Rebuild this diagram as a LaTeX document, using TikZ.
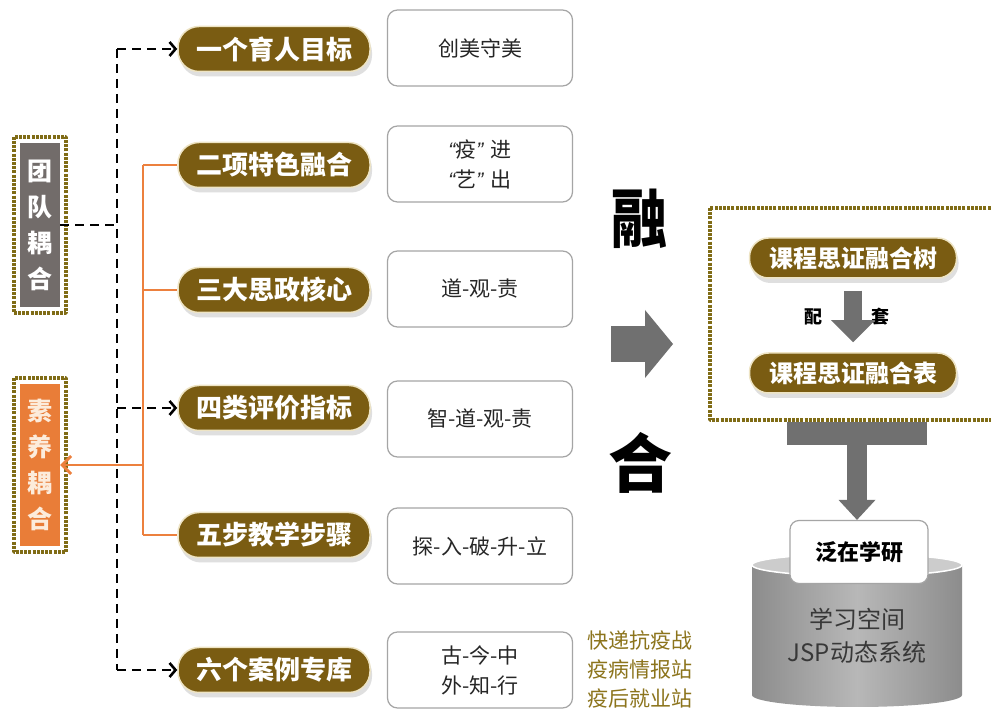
\documentclass[tikz,border=0pt]{standalone}
\usepackage{fontspec}
\setmainfont{Noto Sans CJK SC}
\newfontfamily\heavyfont{Noto Sans CJK SC Black}
\newfontfamily\quotefont{Liberation Sans}
\usetikzlibrary{arrows.meta,shadows}

\definecolor{olivebrown}{RGB}{122,92,18}
\definecolor{pillrim}{RGB}{238,228,196}
\definecolor{framecol}{RGB}{128,108,22}
\definecolor{linkorange}{RGB}{236,128,62}
\definecolor{teamgray}{RGB}{114,108,106}
\definecolor{qualityorange}{RGB}{233,125,56}
\definecolor{qualitytext}{RGB}{252,236,220}
\definecolor{blockgray}{RGB}{112,112,112}
\definecolor{sitecol}{RGB}{140,116,28}
\definecolor{notedraw}{RGB}{165,165,165}

\newcommand{\openq}{{\quotefont\itshape\char"201C}}
\newcommand{\closeq}{{\quotefont\itshape\char"201D}\hspace{0.35em}}

\tikzset{
  pill/.style={draw=pillrim, line width=1.5bp, fill=olivebrown, rounded corners=21bp,
    minimum width=192bp, minimum height=45bp, inner sep=0bp, text=white,
    font=\fontsize{26bp}{28bp}\selectfont\bfseries,
    drop shadow={shadow xshift=2bp, shadow yshift=-5bp, opacity=0.25}},
  smallpill/.style={pill, minimum width=207bp, minimum height=40bp, rounded corners=19bp,
    font=\fontsize{24bp}{27bp}\selectfont\bfseries},
  note/.style={draw=notedraw, line width=1.2bp, fill=white, rounded corners=10bp,
    minimum width=185bp, minimum height=76bp, align=center, text=black!85,
    font=\fontsize{21bp}{30bp}\selectfont},
  upright/.style={minimum width=40bp, inner sep=0bp, align=center,
    font=\fontsize{25bp}{36bp}\selectfont\bfseries},
  frame/.style={draw=framecol, line width=4bp, dash pattern=on 3bp off 1.2bp},
  dashlink/.style={draw=black, line width=2.6bp, dash pattern=on 9bp off 6bp,
    >={Straight Barb[length=6bp,width=14bp]}},
  orangelink/.style={draw=linkorange, line width=2.8bp,
    >={Straight Barb[length=9bp,width=18bp]}},
  blocklink/.style={draw=blockgray},
  pairlabel/.style={font=\fontsize{18bp}{20bp}\selectfont\bfseries},
  bigchar/.style={font=\heavyfont\fontsize{64bp}{64bp}\selectfont},
}

\begin{document}
\begin{tikzpicture}[>=latex,line join=bevel,]
%%
\fill[white] (0bp,0bp) rectangle (991bp,715bp);
\useasboundingbox (0bp,0bp) rectangle (991bp,715bp);
%% six steps
  \node (goal) at (274bp,666bp) [pill] {一个育人目标};
  \node (blend) at (274bp,550bp) [pill] {二项特色融合};
  \node (core) at (274bp,425bp) [pill] {三大思政核心};
  \node (eval) at (274bp,307bp) [pill] {四类评价指标};
  \node (steps) at (274bp,180bp) [pill] {五步教学步骤};
  \node (cases) at (274bp,45bp) [pill] {六个案例专库};
  \node (goalnote) at (480bp,667bp) [note] {创美守美};
  \node (blendnote) at (480bp,551bp) [note] {\openq 疫\closeq 进\\\openq 艺\closeq 出};
  \node (corenote) at (480bp,426bp) [note] {道-观-责};
  \node (evalnote) at (480bp,296bp) [note] {智-道-观-责};
  \node (stepsnote) at (480bp,169bp) [note] {探-入-破-升-立};
  \node (casesnote) at (480bp,45bp) [note] {古-今-中\\外-知-行};
  \node (casesites) at (640bp,46bp) [text=sitecol, align=center,
    font=\fontsize{21bp}{29bp}\selectfont] {快递抗疫战\\疫病情报站\\疫后就业站};
%% two couplings
  \node (team) at (40bp,490bp) [upright, fill=teamgray, minimum height=164bp, text=white] {团\\队\\耦\\合};
  \node (quality) at (40bp,250bp) [upright, fill=qualityorange, minimum height=162bp, text=qualitytext] {素\\养\\耦\\合};
  \draw [frame] ([xshift=-6bp,yshift=6bp]team.north west) rectangle ([xshift=6bp,yshift=-6bp]team.south east);
  \draw [frame] ([xshift=-6bp,yshift=6bp]quality.north west) rectangle ([xshift=6bp,yshift=-6bp]quality.south east);
%
  \coordinate (stem) at (143bp,0bp);
  \coordinate (spine) at (117bp,0bp);
  \draw [orangelink] (stem |- blend) -- (stem |- steps);
  \draw [orangelink] (stem |- blend) -- (blend);
  \draw [orangelink] (stem |- core) -- (core);
  \draw [orangelink] (stem |- steps) -- (steps);
  \draw [orangelink,->] (stem |- quality) -- (quality);
  \draw [dashlink] (spine |- goal) -- (spine |- cases);
  \draw [dashlink,->] (spine |- goal) -- (goal);
  \draw [dashlink,->] (spine |- eval) -- (eval);
  \draw [dashlink,->] (spine |- cases) -- (cases);
  \draw [dashlink] (team) -- (spine |- team);
%% merge
  \node (rong) at (640bp,496bp) [bigchar] {\scalebox{0.88}[1]{融}};
  \node (he) at (640bp,252bp) [bigchar] {合};
  \coordinate (flowstart) at (611bp,371bp);
  \coordinate (flowend) at (673bp,371bp);
  \draw [blocklink, line width=36bp, -{Triangle[length=28bp,width=68bp,line width=0pt]}] (flowstart) -- (flowend);
%% course side
  \draw [frame] (710bp,507bp) rectangle (1010bp,295bp);
  \node (tree) at (853bp,457bp) [smallpill] {课程思证融合树};
  \node (table) at (853bp,342bp) [smallpill] {课程思证融合表};
  \node (pei) at (813bp,398bp) [pairlabel] {配};
  \node (tao) at (880bp,398bp) [pairlabel] {套};
  \draw [blocklink, line width=18bp, shorten <=12bp, shorten >=10bp,
    -{Triangle[length=22bp,width=44bp,line width=0pt]}] (tree) -- (table);
%% learning space
  \shade [left color=black!45, right color=black!45, middle color=black!28]
    (752bp,150bp) -- (752bp,20bp) arc[start angle=180,end angle=360,x radius=105bp,y radius=12bp] -- (962bp,150bp) -- cycle;
  \fill [black!20, draw=white, line width=1.5bp] (857bp,150bp) ellipse [x radius=105bp, y radius=11bp];
  \node (space) at (857bp,79bp) [align=center, text=black!78,
    font=\fontsize{24bp}{33bp}\selectfont] {学习空间\\JSP动态系统};
  \node (research) at (859bp,163bp) [draw=notedraw, line width=1.2bp, fill=white, rounded corners=9bp,
    minimum width=138bp, minimum height=63bp, font=\fontsize{22bp}{25bp}\selectfont\bfseries] {泛在学研};
  \fill [blockgray] (787bp,293bp) rectangle (927bp,270bp);
  \coordinate (barmid) at (857bp,275bp);
  \draw [blocklink, line width=20bp, -{Triangle[length=20bp,width=37bp,line width=0pt]}] (barmid) -- (barmid |- research.north);
%
\end{tikzpicture}
\end{document}
